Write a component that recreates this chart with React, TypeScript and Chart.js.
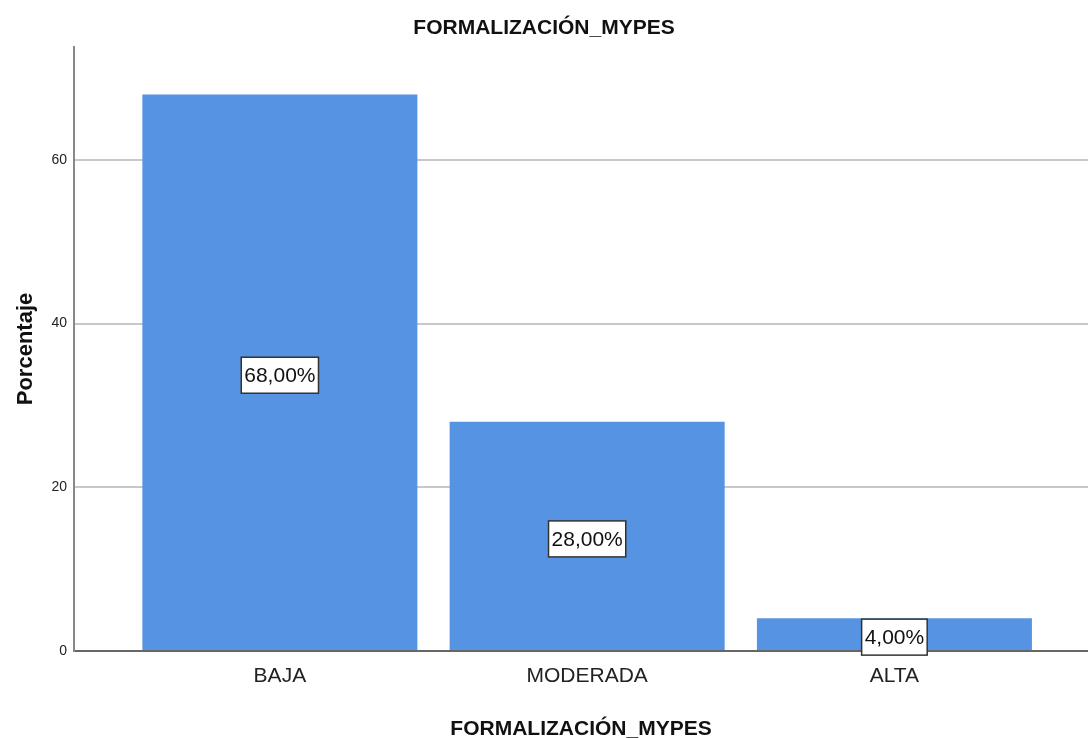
import React, { useEffect, useRef } from "react";
import { Chart, registerables } from "chart.js";

Chart.register(...registerables);

const categories = ["BAJA", "MODERADA", "ALTA"];
const percentages = [68, 28, 4];
const valueLabels = ["68,00%", "28,00%", "4,00%"];
const yTicks = [0, 20, 40, 60];
const chartTitle = "FORMALIZACIÓN_MYPES";
const xTitle = "FORMALIZACIÓN_MYPES";
const yTitle = "Porcentaje";

const FONT = "'Liberation Sans', Arial, sans-serif";

const boxLabelPlugin = {
  id: "boxLabels",
  afterDatasetsDraw(chart: any) {
    const ctx = chart.ctx;
    const meta = chart.getDatasetMeta(0);
    ctx.save();
    ctx.font = `21px ${FONT}`;
    ctx.textAlign = "center";
    ctx.textBaseline = "middle";
    meta.data.forEach((bar: any, i: number) => {
      const { x, y, base } = bar.getProps(["x", "y", "base"], true);
      const cy = (y + base) / 2 + 3;
      const text = valueLabels[i];
      const w = ctx.measureText(text).width + 6;
      const h = 36;
      ctx.fillStyle = "#ffffff";
      ctx.fillRect(x - w / 2, cy - h / 2, w, h);
      ctx.lineWidth = 1.5;
      ctx.strokeStyle = "#333333";
      ctx.strokeRect(x - w / 2, cy - h / 2, w, h);
      ctx.fillStyle = "#111111";
      ctx.fillText(text, x, cy + 1);
    });
    ctx.restore();
  },
};

export default function App() {
  const ref = useRef<HTMLCanvasElement>(null);
  useEffect(() => {
    if (!ref.current) return;
    const chart = new Chart(ref.current, {
      type: "bar",
      data: {
        datasets: [
          {
            label: yTitle,
            data: percentages.map((v, i) => ({ x: i, y: v })),
            backgroundColor: "#5694E3",
            borderWidth: 0,
            barPercentage: 0.895,
            categoryPercentage: 1,
          },
        ],
      },
      options: {
        responsive: false,
        animation: false,
        layout: { padding: 0 },
        plugins: {
          legend: { display: false },
          tooltip: { enabled: false },
          title: {
            display: true,
            text: chartTitle,
            color: "#111111",
            font: { family: FONT, size: 21, weight: "bold", lineHeight: 1.2 },
            padding: { top: 16, bottom: 5.8 },
          },
        },
        scales: {
          x: {
            type: "linear",
            offset: false,
            min: -0.67,
            max: 2.63,
            afterBuildTicks: (scale: any) => {
              scale.ticks = categories.map((_, i) => ({ value: i }));
            },
            afterFit: (scale: any) => {
              scale.height = 87;
            },
            ticks: {
              callback: (_v: any, i: number) => categories[i],
              color: "#222222",
              font: { family: FONT, size: 21 },
              padding: 13,
              maxRotation: 0,
              autoSkip: false,
            },
            grid: { display: false, drawTicks: false },
            border: { display: true, color: "#666666", width: 2 },
            title: {
              display: true,
              text: xTitle,
              color: "#111111",
              font: { family: FONT, size: 21, weight: "bold", lineHeight: 0.86 },
              padding: { top: 0, bottom: 0 },
            },
          },
          y: {
            type: "linear",
            min: 0,
            max: 73.8,
            afterBuildTicks: (scale: any) => {
              scale.ticks = yTicks.map((v) => ({ value: v }));
            },
            afterFit: (scale: any) => {
              scale.width = 74;
            },
            ticks: {
              color: "#222222",
              font: { family: FONT, size: 14 },
              padding: 7,
            },
            grid: {
              color: "#c8c8c8",
              lineWidth: 2,
              drawTicks: false,
            },
            border: { display: true, color: "#888888", width: 2 },
            title: {
              display: true,
              text: yTitle,
              color: "#111111",
              font: { family: FONT, size: 22, weight: "bold", lineHeight: 1 },
              padding: { top: 14.5, bottom: 0 },
            },
          },
        },
      },
      plugins: [boxLabelPlugin],
    });
    return () => chart.destroy();
  }, []);
  return (
    <div style={{ position: "fixed", left: 0, top: 0, width: 1088, height: 738, background: "#ffffff" }}>
      <canvas ref={ref} width={1088} height={738} style={{ display: "block" }} />
    </div>
  );
}
